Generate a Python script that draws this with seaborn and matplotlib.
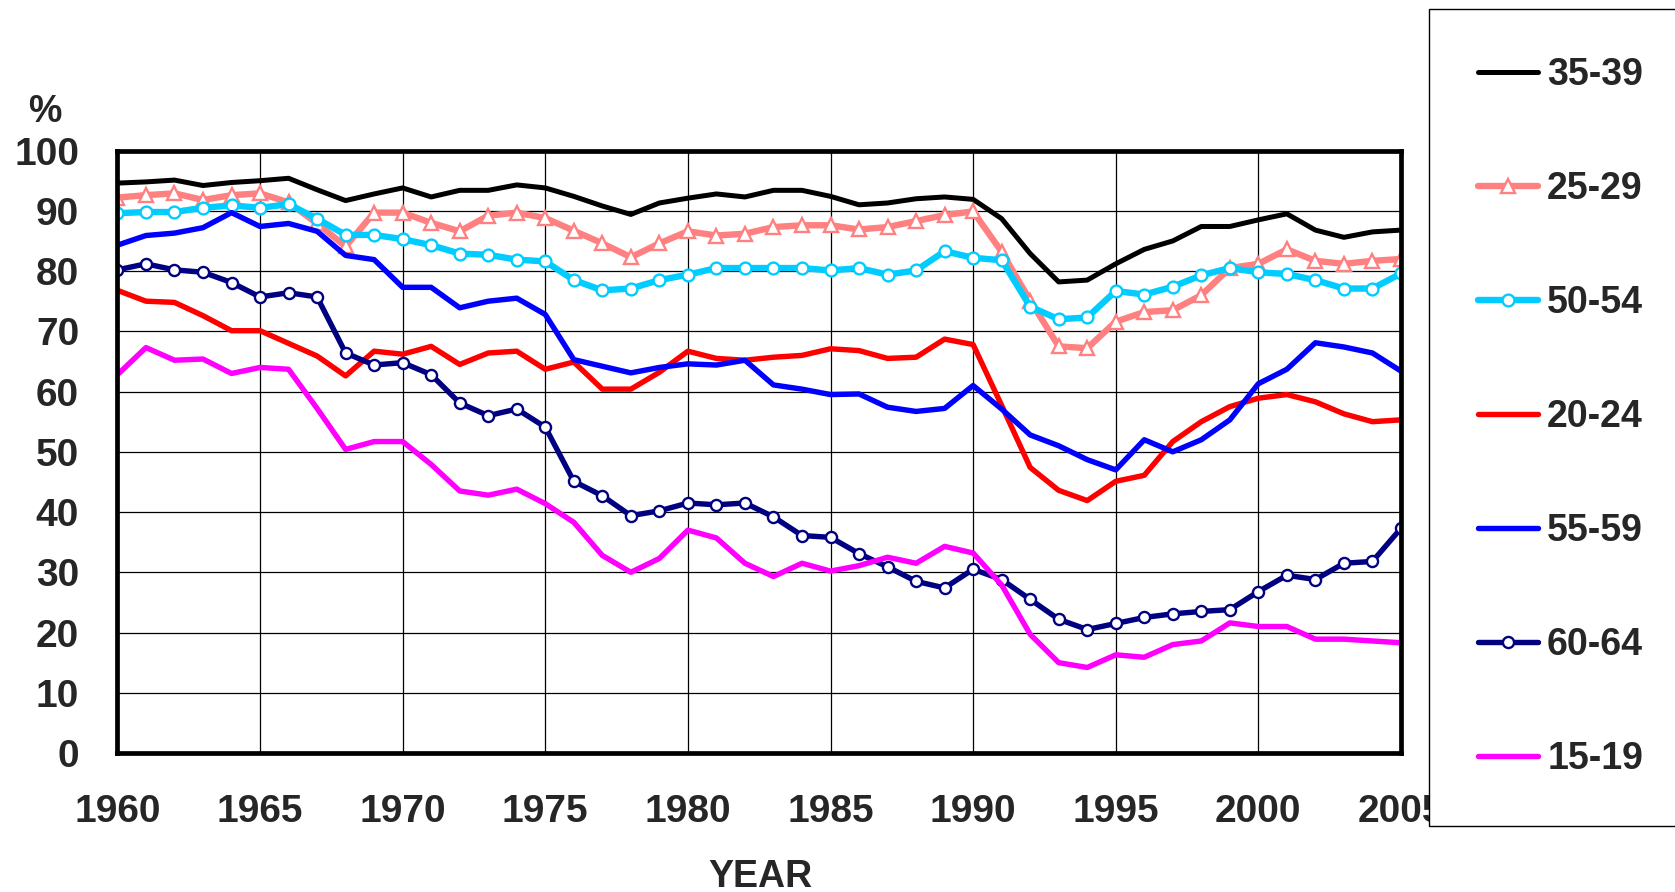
import matplotlib
matplotlib.use('Agg')
import matplotlib.pyplot as plt
import seaborn as sns

# data (percent, 1960-2005)
years = list(range(1960, 2006))

age_35_39 = [94.6, 94.8, 95.1, 94.2, 94.7, 95.0, 95.4, 93.5, 91.7, 92.8,
             93.8, 92.3, 93.4, 93.4, 94.3, 93.8, 92.4, 90.8, 89.4, 91.3,
             92.1, 92.8, 92.3, 93.4, 93.4, 92.4, 91.0, 91.3, 92.0, 92.3,
             91.9, 88.7, 82.9, 78.2, 78.5, 81.2, 83.6, 85.0, 87.4, 87.4,
             88.5, 89.5, 86.8, 85.6, 86.5, 86.8]
age_25_29 = [92.2, 92.6, 92.9, 91.8, 92.6, 92.9, 91.4, 87.9, 84.1, 89.7,
             89.7, 88.0, 86.6, 89.2, 89.7, 88.8, 86.7, 84.6, 82.3, 84.6,
             86.6, 85.9, 86.2, 87.3, 87.6, 87.6, 86.9, 87.3, 88.3, 89.3,
             89.9, 83.2, 75.1, 67.5, 67.2, 71.6, 73.2, 73.5, 76.0, 80.5,
             81.2, 83.6, 81.7, 81.2, 81.7, 82.0]
age_50_54 = [89.6, 89.8, 89.8, 90.5, 90.9, 90.5, 91.1, 88.7, 86.0, 86.0,
             85.3, 84.3, 82.9, 82.7, 81.9, 81.6, 78.5, 76.8, 77.1, 78.5,
             79.4, 80.5, 80.5, 80.5, 80.5, 80.1, 80.5, 79.4, 80.1, 83.3,
             82.2, 81.8, 74.1, 72.0, 72.3, 76.7, 76.1, 77.4, 79.3, 80.5,
             79.8, 79.5, 78.5, 77.1, 77.1, 79.6]
age_20_24 = [76.8, 75.0, 74.8, 72.6, 70.1, 70.1, 68.0, 65.9, 62.6, 66.7,
             66.2, 67.5, 64.5, 66.4, 66.7, 63.7, 64.9, 60.4, 60.4, 63.2,
             66.7, 65.5, 65.2, 65.7, 66.0, 67.1, 66.8, 65.5, 65.7, 68.7,
             67.8, 57.7, 47.4, 43.6, 41.9, 45.1, 46.1, 51.7, 55.0, 57.5,
             58.9, 59.5, 58.3, 56.3, 55.0, 55.3]
age_55_59 = [84.3, 85.9, 86.3, 87.2, 89.7, 87.4, 87.9, 86.6, 82.6, 81.9,
             77.3, 77.3, 73.9, 75.0, 75.5, 72.8, 65.3, 64.2, 63.1, 64.0,
             64.6, 64.4, 65.2, 61.1, 60.4, 59.5, 59.6, 57.4, 56.7, 57.2,
             61.0, 57.1, 52.8, 51.0, 48.7, 47.0, 52.0, 50.0, 52.0, 55.3,
             61.3, 63.7, 68.1, 67.4, 66.4, 63.4]
age_60_64 = [80.2, 81.2, 80.2, 79.8, 78.1, 75.7, 76.4, 75.7, 66.4, 64.4,
             64.8, 62.8, 58.1, 56.0, 57.1, 54.1, 45.1, 42.7, 39.4, 40.2,
             41.5, 41.2, 41.5, 39.2, 36.1, 35.8, 33.1, 30.9, 28.5, 27.4,
             30.5, 28.8, 25.5, 22.2, 20.5, 21.5, 22.5, 23.1, 23.5, 23.8,
             26.8, 29.5, 28.8, 31.5, 31.8, 37.3]
age_15_19 = [62.8, 67.3, 65.2, 65.4, 63.0, 64.0, 63.7, 57.2, 50.4, 51.7,
             51.7, 47.9, 43.5, 42.8, 43.8, 41.4, 38.3, 32.8, 30.0, 32.3,
             37.0, 35.7, 31.5, 29.3, 31.5, 30.2, 31.1, 32.5, 31.5, 34.3,
             33.2, 27.9, 19.7, 15.0, 14.2, 16.3, 15.9, 18.0, 18.6, 21.6,
             21.0, 21.0, 18.9, 18.9, 18.6, 18.3]

series_names = ['35-39', '25-29', '50-54', '20-24', '55-59', '60-64', '15-19']
series_values = [age_35_39, age_25_29, age_50_54, age_20_24,
                 age_55_59, age_60_64, age_15_19]

# styles: color, linewidth, marker, marker size
styles = {'35-39': ('#000000', 3.6, None, 0),
          '25-29': ('#FF8080', 4.6, '^', 9.5),
          '50-54': ('#00CCFF', 4.6, 'o', 8.5),
          '20-24': ('#FF0000', 3.9, None, 0),
          '55-59': ('#0000FF', 3.9, None, 0),
          '60-64': ('#000080', 3.9, 'o', 8),
          '15-19': ('#FF00FF', 3.9, None, 0)}

sns.set_style('white')
plt.rcParams['font.family'] = ['Liberation Sans', 'DejaVu Sans']
plt.rcParams['font.weight'] = 'bold'

fig = plt.figure(figsize=(16.75, 8.92), dpi=100)
ax = fig.add_axes([0.0701, 0.1558, 0.7663, 0.6754])

for name, vals in zip(series_names, series_values):
    col, lw, mk, ms = styles[name]
    sns.lineplot(x=years, y=vals, ax=ax, color=col, linewidth=lw,
                 marker=mk, markersize=ms, markerfacecolor='white',
                 markeredgecolor=col, markeredgewidth=1.7,
                 label=name, legend=False)

ax.set_xlim(1960, 2005)
ax.set_ylim(0, 100)
ax.set_xticks(range(1960, 2006, 5))
ax.set_yticks(range(0, 101, 10))
ax.set_xlabel('')
ax.set_ylabel('')
ax.grid(True, color='black', linewidth=0.9)
ax.set_axisbelow(True)
ax.tick_params(axis='both', direction='out', length=9.5, width=1.2,
               labelsize=28, color='#444444')
ax.tick_params(axis='x', pad=20)
ax.tick_params(axis='y', pad=18)
for sp in ax.spines.values():
    sp.set_visible(True)
    sp.set_linewidth(3.4)
    sp.set_color('black')

fig.text(45/1675, 1-112/892, '%', ha='center', va='center',
         fontsize=27, weight='bold')
fig.text(760/1675, 1-877/892, 'YEAR', ha='center', va='center',
         fontsize=27, weight='bold')

handles, labels = ax.get_legend_handles_labels()
leg = fig.legend(handles, labels, loc='upper left',
                 bbox_to_anchor=(1429/1675, 1-8.5/892),
                 bbox_transform=fig.transFigure, frameon=True, fancybox=False,
                 edgecolor='black', framealpha=1, fontsize=27,
                 labelspacing=2.08, handlelength=1.6, handletextpad=0.25,
                 borderpad=1.3, borderaxespad=0, numpoints=1)
leg.get_frame().set_linewidth(1.0)

fig.savefig('out.png', dpi=100)
